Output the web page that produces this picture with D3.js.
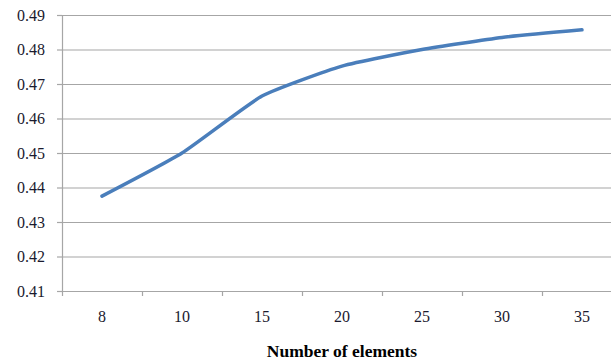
<!DOCTYPE html>
<html>
<head>
<meta charset="utf-8">
<script src="https://cdn.jsdelivr.net/npm/d3@7"></script>
<style>
html,body{margin:0;padding:0;background:#fff;overflow:hidden;}
svg{display:block;}
</style>
</head>
<body>
<svg id="chart" width="611" height="362"></svg>
<script>
const categories = ["8","10","15","20","25","30","35"];
const values = [0.4375, 0.4500, 0.4665, 0.4752, 0.4800, 0.4835, 0.4857];
const yTicks = [0.41,0.42,0.43,0.44,0.45,0.46,0.47,0.48,0.49];
const xTitle = "Number of elements";

const serif = "Liberation Serif";
const svg = d3.select("#chart");
const mLeft = 62, mRight = 622, mTop = 15, mBottom = 291;

const x = d3.scaleBand().domain(categories).range([mLeft, mRight]);
const y = d3.scaleLinear().domain([0.41, 0.49]).range([mBottom, mTop]);

// gridlines
svg.append("g")
  .attr("transform", `translate(${mLeft},0)`)
  .call(d3.axisLeft(y).tickValues(yTicks).tickSize(-(mRight-mLeft)).tickFormat(""))
  .call(g => g.select(".domain").remove())
  .call(g => g.selectAll("line").attr("stroke","#a6a6a6").attr("stroke-width",1.2));

// y axis with labels
const yAxis = svg.append("g")
  .attr("transform", `translate(${mLeft},0)`)
  .call(d3.axisLeft(y).tickValues(yTicks).tickSize(5).tickPadding(12).tickFormat(d3.format(".2f")))
  .attr("font-family", serif).attr("font-size", 16);
yAxis.select(".domain").attr("stroke","#a6a6a6").attr("stroke-width",1.2).attr("d", `M0.5,${mTop}V${mBottom}`);
yAxis.selectAll("line").attr("stroke","#a6a6a6").attr("stroke-width",1.2);
yAxis.selectAll("text").attr("fill","#1a1a2e");

// x axis
const xAxis = svg.append("g")
  .attr("transform", `translate(0,${mBottom})`)
  .call(d3.axisBottom(x).tickSize(0).tickPadding(20))
  .attr("font-family", serif).attr("font-size", 16);
xAxis.select(".domain").attr("stroke","#a6a6a6").attr("stroke-width",1.2);
xAxis.selectAll("text").attr("fill","#1a1a2e");
// boundary tick marks between categories
const bounds = categories.map(c => x(c)).concat([mRight]);
svg.append("g").selectAll("line").data(bounds).join("line")
  .attr("x1", d => Math.round(d)+0.5).attr("x2", d => Math.round(d)+0.5)
  .attr("y1", mBottom).attr("y2", mBottom+5)
  .attr("stroke","#a6a6a6").attr("stroke-width",1.2);

// line
const line = d3.line()
  .x((d,i) => x(categories[i]) + x.bandwidth()/2)
  .y(d => y(d))
  .curve(d3.curveCardinal.tension(0.5));
svg.append("path").datum(values)
  .attr("d", line)
  .attr("fill","none")
  .attr("stroke","#4a7ebb")
  .attr("stroke-width",3.5)
  .attr("stroke-linecap","round")
  .attr("stroke-linejoin","round");

// title
svg.append("text")
  .attr("x", 342).attr("y", 357)
  .attr("text-anchor","middle")
  .attr("font-family", serif)
  .attr("font-weight","bold").attr("font-size",17.5)
  .attr("fill","#000")
  .text(xTitle);
</script>
</body>
</html>
